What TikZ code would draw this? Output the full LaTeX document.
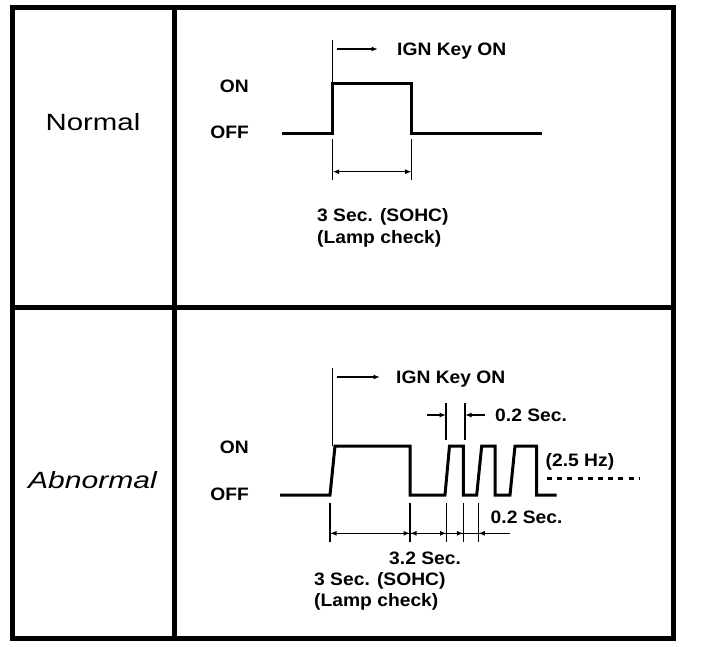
\documentclass[tikz,border=0pt]{standalone}
\usepackage{fontspec}
\setmainfont{Liberation Sans}
\usetikzlibrary{arrows.meta}
\newcommand{\widetxt}[1]{\scalebox{1.07}[1]{#1}}
\begin{document}
\begin{tikzpicture}[x=1pt,y=-1pt,
  frame/.style={line width=5pt},
  wave/.style={line width=3pt, line join=miter},
  ext/.style={line width=1.1pt},
  dim/.style={line width=1.4pt},
  tipr/.style={-{Latex[length=6.5pt,width=5pt]}},
  tipb/.style={{Latex[length=6.5pt,width=5pt]}-{Latex[length=6.5pt,width=5pt]}},
  lbl/.style={font=\fontsize{18}{20}\selectfont\bfseries, inner sep=0pt},
  big/.style={font=\fontsize{23.5}{26}\selectfont, inner sep=0pt}]
\useasboundingbox (0,0) rectangle (704,646);
% frame
\draw[frame] (12.5,7.5) rectangle (673.5,638);
\draw[frame] (174.5,7.5) -- (174.5,638);
\draw[frame] (12.5,307.5) -- (673.5,307.5);
% row titles
\node[big, anchor=base] (normal) at (93,130) {\scalebox{1.25}[1]{Normal}};
\node[big, anchor=base] (abnormal) at (92.5,488) {\scalebox{1.28}[1]{\itshape Abnormal}};
% ON / OFF
\node[lbl, anchor=base east] (on1) at (249,92) {\widetxt{ON}};
\node[lbl, anchor=base east] (off1) at (249,138) {\widetxt{OFF}};
\node[lbl, anchor=base east] (on2) at (249,453) {\widetxt{ON}};
\node[lbl, anchor=base east] (off2) at (249,500) {\widetxt{OFF}};

% ---------- Normal ----------
\draw[wave] (281.7,133.3) -- (332.7,133.3) -- (332.7,83.3) -- (411.7,83.3) -- (411.7,133.3) -- (541.7,133.3);
\coordinate (ign1top) at (332.7,40);
\coordinate (ign1bot) at (332.7,83.3);
\draw[ext] (ign1top) -- (ign1bot);
\coordinate (ign1a) at (336.7,49);
\coordinate (ign1b) at (378,49);
\draw[dim,tipr] (ign1a) -- (ign1b);
\node[lbl, anchor=base west] (ign1) at (397,55) {\widetxt{IGN Key ON}};
\coordinate (e1a) at (332.7,139); \coordinate (e1b) at (332.7,180);
\coordinate (e2a) at (411.7,139); \coordinate (e2b) at (411.7,180);
\draw[ext] (e1a) -- (e1b);
\draw[ext] (e2a) -- (e2b);
\coordinate (d1a) at (332.7,171.7); \coordinate (d1b) at (411.7,171.7);
\draw[dim,tipb] (d1a) -- (d1b);
\node[lbl, anchor=base west] (sohc1) at (317,221.5) {\widetxt{3 Sec. (SOHC)}};
\node[lbl, anchor=base west] (lamp1) at (317,243) {\widetxt{(Lamp check)}};

% ---------- Abnormal ----------
\draw[wave] (280,495) -- (330,495) -- (335,446) -- (410,446) -- (410,495)
  -- (445,495) -- (449.5,446) -- (463.3,446) -- (463.3,495)
  -- (476.7,495) -- (481.7,446) -- (495,446) -- (495,495)
  -- (510,495) -- (515,446) -- (536.7,446) -- (536.7,495) -- (556.7,495);
\coordinate (ign2top) at (332.7,368);
\coordinate (ign2bot) at (332.7,446);
\draw[ext] (ign2top) -- (ign2bot);
\coordinate (ign2a) at (336.7,377);
\coordinate (ign2b) at (380,377);
\draw[dim,tipr] (ign2a) -- (ign2b);
\node[lbl, anchor=base west] (ign2) at (396,383) {\widetxt{IGN Key ON}};
% upper 0.2 Sec.
\coordinate (u1a) at (446,403); \coordinate (u1b) at (446,440);
\coordinate (u2a) at (465,403); \coordinate (u2b) at (465,440);
\draw[ext] (u1a) -- (u1b);
\draw[ext] (u2a) -- (u2b);
\coordinate (ua) at (426.7,415); \coordinate (ub) at (446,415);
\coordinate (uc) at (485,415); \coordinate (ud) at (465,415);
\draw[dim,tipr] (ua) -- (ub);
\draw[dim,tipr] (uc) -- (ud);
\node[lbl, anchor=base west] (sec02a) at (495,421.5) {\widetxt{0.2 Sec.}};
% 2.5 Hz
\node[lbl, anchor=base west] (hz) at (545.5,466) {\widetxt{(2.5 Hz)}};
\coordinate (dsa) at (547,478.3); \coordinate (dsb) at (640,478.3);
\draw[line width=3pt, dash pattern=on 5pt off 5.2pt] (dsa) -- (dsb);
% lower extension lines
\foreach \x/\n in {330/la, 410/lb, 446.7/lc, 463.3/ld, 478.3/le}{
  \coordinate (\n1) at (\x,503);
  \coordinate (\n2) at (\x,541.7);
  \draw[ext] (\n1) -- (\n2);
}
\coordinate (ma) at (330,533.3); \coordinate (mb) at (410,533.3);
\coordinate (mc) at (446.7,533.3); \coordinate (md) at (463.3,533.3);
\coordinate (me) at (478.3,533.3); \coordinate (mf) at (510,533.3);
\draw[dim] (ma) -- (mf);
\draw[dim,tipb] (ma) -- (mb);
\draw[dim,tipb] (mb) -- (mc);
\draw[dim,tipr] (mc) -- (md);
\draw[dim,tipr] (mf) -- (me);
\node[lbl, anchor=base west] (sec02b) at (490.5,523) {\widetxt{0.2 Sec.}};
\node[lbl, anchor=base west] (sec32) at (389,564) {\widetxt{3.2 Sec.}};
\node[lbl, anchor=base west] (sohc2) at (314,585) {\widetxt{3 Sec. (SOHC)}};
\node[lbl, anchor=base west] (lamp2) at (314,606) {\widetxt{(Lamp check)}};
\end{tikzpicture}
\end{document}
